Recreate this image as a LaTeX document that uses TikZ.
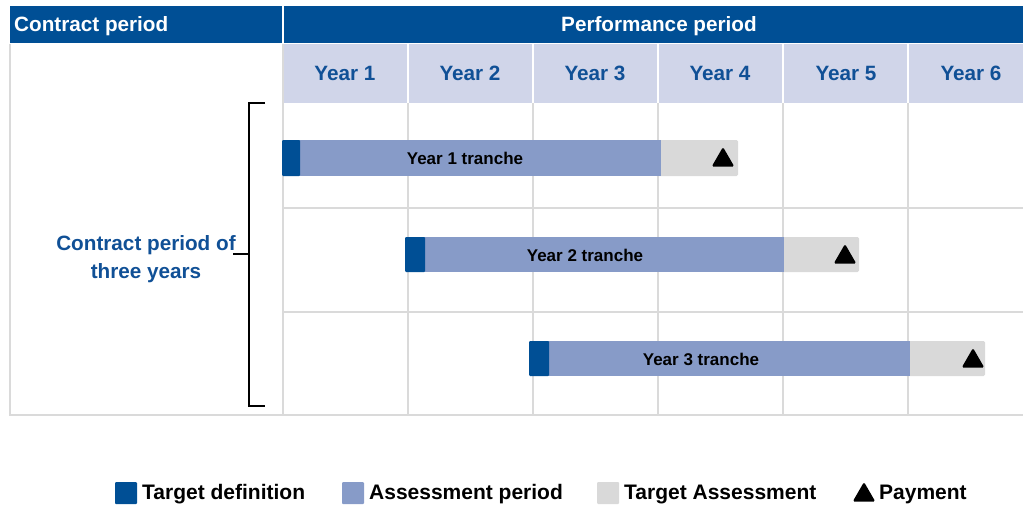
\documentclass[tikz,border=0pt]{standalone}
\usepackage{fontspec}
\setmainfont{Liberation Sans}
\usetikzlibrary{shapes.geometric}
\definecolor{dblue}{RGB}{0,79,149}
\definecolor{mblue}{RGB}{135,155,200}
\definecolor{lgray}{RGB}{217,217,217}
\definecolor{lav}{RGB}{208,213,233}
\definecolor{gridc}{RGB}{218,218,218}
\definecolor{ytext}{RGB}{16,80,150}
\tikzset{
  hdr/.style={fill=dblue,draw=none},
  hdrtext/.style={text=white,font=\bfseries\fontsize{20.7}{24}\selectfont,inner sep=0pt},
  yeartext/.style={text=ytext,font=\bfseries\fontsize{20.7}{24}\selectfont,inner sep=0pt},
  gridline/.style={draw=gridc,line width=1.2pt},
  tdef/.style={fill=dblue,draw=none},
  aper/.style={fill=mblue,draw=none},
  tass/.style={fill=lgray,draw=none,rounded corners=1.5pt},
  bartext/.style={text=black,font=\bfseries\fontsize{17}{20}\selectfont,inner sep=0pt},
  pay/.style={regular polygon,regular polygon sides=3,fill=black,minimum size=26pt,inner sep=0pt,rounded corners=1.5pt},
  legtext/.style={text=black,font=\bfseries\fontsize{21}{24}\selectfont,inner sep=0pt,anchor=west},
  legbox/.style={minimum width=22pt,minimum height=22pt,inner sep=0pt,rounded corners=1pt},
}
\begin{document}
\begin{tikzpicture}[x=1pt,y=-1pt]
\useasboundingbox (0,0) rectangle (1023,506);
% headers
\fill[hdr] (10,6) rectangle (282,43);
\fill[hdr] (284,6) rectangle (1023,43);
\node[hdrtext,anchor=west] (hc) at (14,26.5) {Contract period};
\node[hdrtext] (hp) at (659,26.5) {Performance period};
% year row
\fill[lav] (284,44) rectangle (1023,103);
\foreach \x in {408,533,658,783,908} \draw[white,line width=2pt] (\x,44) -- (\x,103);
\foreach \i/\x in {1/345,2/470,3/595,4/720,5/846,6/971}
  \node[yeartext] (y\i) at (\x,73) {Year \i};
% grid
\foreach \x in {408,533,658,783,908} \draw[gridline] (\x,103) -- (\x,415);
\foreach \y in {208,312} \draw[gridline] (283,\y) -- (1023,\y);
\draw[gridline] (10,44) -- (10,415) -- (1023,415);
\draw[gridline] (283,44) -- (283,415);
% bars
\fill[tass] (655,140) rectangle (738,176);
\fill[aper] (298,140) rectangle (661,176);
\fill[tdef,rounded corners=1pt] (282,140) rectangle (300,176);
\node[bartext] (b1) at (465,158) {Year 1 tranche};
\node[pay] (p1) at (723,160) {};

\fill[tass] (778,237) rectangle (859,272);
\fill[aper] (423,237) rectangle (784,272);
\fill[tdef,rounded corners=1pt] (405,237) rectangle (425,272);
\node[bartext] (b2) at (585,255) {Year 2 tranche};
\node[pay] (p2) at (845,257) {};

\fill[tass] (904,341) rectangle (985,376);
\fill[aper] (547,341) rectangle (910,376);
\fill[tdef,rounded corners=1pt] (529,341) rectangle (549,376);
\node[bartext] (b3) at (701,359) {Year 3 tranche};
\node[pay] (p3) at (973,361) {};
% bracket
\coordinate (bt) at (265,103);
\coordinate (bb) at (265,406);
\coordinate (bm) at (233,254);
\draw[black,line width=1.1pt] (bt) -- (249,103) -- (249,406) -- (bb);
\draw[black,line width=1.1pt] (249,254) -- (bm);
\node[yeartext,align=center,font=\bfseries\fontsize{20.7}{28}\selectfont] (cp) at (146,259) {Contract period of\\three years};
% legend
\node[legbox,fill=dblue] (l1) at (126,493) {};
\node[legtext] (lt1) at (142,494.5) {Target definition};
\node[legbox,fill=mblue] (l2) at (353,493) {};
\node[legtext] (lt2) at (369,494.5) {Assessment period};
\node[legbox,fill=lgray] (l3) at (608,493) {};
\node[legtext] (lt3) at (624,494.5) {Target Assessment};
\node[pay] (l4) at (864,495) {};
\node[legtext] (lt4) at (879,494.5) {Payment};
\end{tikzpicture}
\end{document}
